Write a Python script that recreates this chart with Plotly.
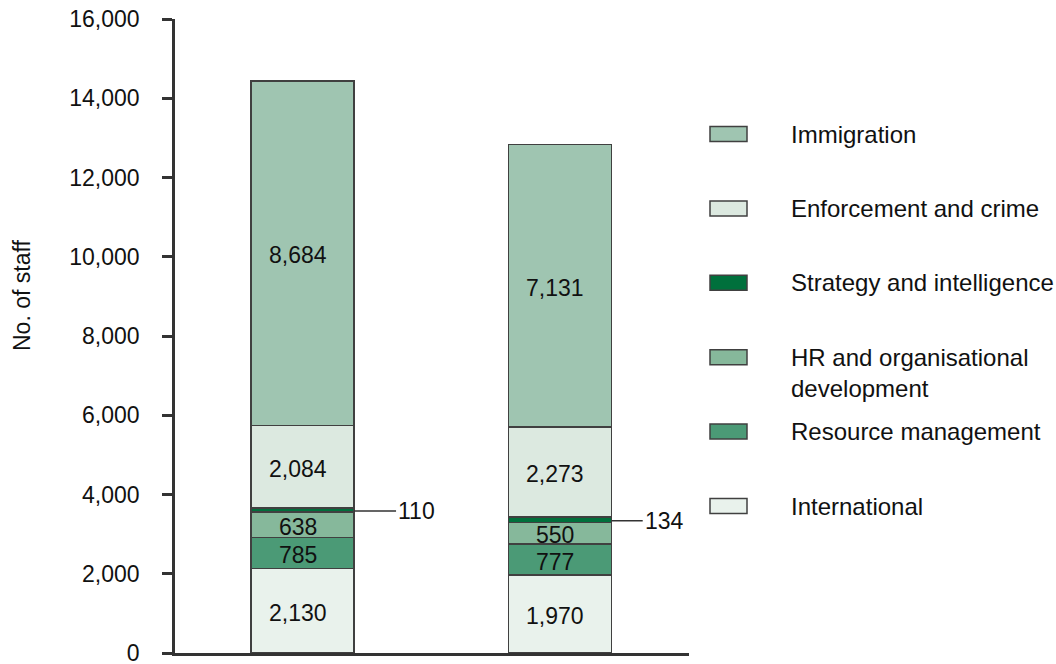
import plotly.graph_objects as go

# Staff numbers by directorate, two stacked columns
columns = [0, 1]
series_names = [
    "International",
    "Resource management",
    "HR and organisational development",
    "Strategy and intelligence",
    "Enforcement and crime",
    "Immigration",
]
international = [2130, 1970]
resource_mgmt = [785, 777]
hr_org_dev = [638, 550]
strategy_intel = [110, 134]
enforcement = [2084, 2273]
immigration = [8684, 7131]

series_values = [international, resource_mgmt, hr_org_dev,
                 strategy_intel, enforcement, immigration]
series_colors = ["#e9f2ec", "#4b9a76", "#86b89b", "#00703c", "#dce9e0", "#9fc5b1"]

y_ticks = [0, 2000, 4000, 6000, 8000, 10000, 12000, 14000, 16000]

FONT = "Liberation Sans, Arial, sans-serif"
FS = 23
FS_LEGEND = 24
TXT = "#111111"
AXIS_COL = "#333333"
BAR_W = 0.4
LEADER_LEN = [42, 31]   # pixel length of the leader line per column

fig = go.Figure()
for name, vals, col in zip(series_names, series_values, series_colors):
    fig.add_trace(go.Bar(
        x=columns, y=vals, name=name, width=BAR_W,
        marker=dict(color=col, line=dict(color="#404040", width=1.5)),
        showlegend=False, hoverinfo="name+y",
    ))

# Value labels: inside segments, with leader lines for the thin segment
annotations = []
for ci, c in enumerate(columns):
    base = 0
    for name, vals in zip(series_names, series_values):
        v = vals[ci]
        mid = base + v / 2
        if name == "Strategy and intelligence":
            annotations.append(dict(
                x=c + BAR_W / 2, y=mid, xref="x", yref="y",
                text=f"{v:,}", showarrow=True, arrowhead=0, arrowwidth=1.5,
                arrowcolor=AXIS_COL, ax=LEADER_LEN[ci], ay=0, xanchor="left",
                yshift=-1, font=dict(family=FONT, size=FS, color=TXT),
            ))
        else:
            annotations.append(dict(
                x=c, y=mid, xref="x", yref="y", text=f"{v:,}",
                showarrow=False, xshift=-5, yshift=-2,
                font=dict(family=FONT, size=FS, color=TXT),
            ))
        base += v

# Layout geometry (pixels) used to place the hand-built legend
L, R, T, B = 175, 367, 19, 11
W, H = 1056, 664
PW, PH = W - L - R, H - T - B


def px_x(p):
    return (p - L) / PW


def px_y(p):
    return (H - B - p) / PH


legend_order = ["Immigration", "Enforcement and crime", "Strategy and intelligence",
                "HR and organisational development", "Resource management", "International"]
legend_lines = {"HR and organisational development": ["HR and organisational", "development"]}
color_of = dict(zip(series_names, series_colors))

shapes = []
for i, name in enumerate(legend_order):
    cy = 134 + i * 74.4
    shapes.append(dict(
        type="rect", xref="paper", yref="paper",
        x0=px_x(710), x1=px_x(747), y0=px_y(cy + 7.5), y1=px_y(cy - 7.5),
        fillcolor=color_of[name], line=dict(color="#404040", width=1.5),
    ))
    for j, line in enumerate(legend_lines.get(name, [name])):
        annotations.append(dict(
            x=px_x(789), y=px_y(cy + j * 31), xref="paper", yref="paper",
            text=line, showarrow=False, xanchor="left", yanchor="middle",
            font=dict(family=FONT, size=FS_LEGEND, color=TXT),
        ))

# Y axis title
annotations.append(dict(
    x=px_x(22), y=px_y(296), xref="paper", yref="paper", text="No. of staff",
    textangle=-90, showarrow=False, xanchor="center", yanchor="middle",
    font=dict(family=FONT, size=FS, color=TXT),
))

fig.update_layout(
    barmode="stack",
    width=W, height=H,
    margin=dict(l=L, r=R, t=T, b=B, autoexpand=False),
    paper_bgcolor="white", plot_bgcolor="white",
    font=dict(family=FONT, size=FS, color=TXT),
    annotations=annotations,
    shapes=shapes,
    xaxis=dict(
        range=[-0.495, 1.5], showticklabels=False, ticks="", showgrid=False,
        zeroline=False, showline=True, linecolor=AXIS_COL, linewidth=2.5,
        fixedrange=True, automargin=False,
    ),
    yaxis=dict(
        range=[0, 16000], tickvals=y_ticks, tickformat=",", showgrid=False,
        zeroline=False, showline=True, linecolor=AXIS_COL, linewidth=2.5,
        ticks="outside", ticklen=10, tickwidth=2.5, tickcolor=AXIS_COL,
        ticklabelstandoff=18, ticklabeloverflow="allow", automargin=False,
        tickfont=dict(family=FONT, size=FS, color=TXT),
        fixedrange=True,
    ),
)

fig.write_html("out.html")
